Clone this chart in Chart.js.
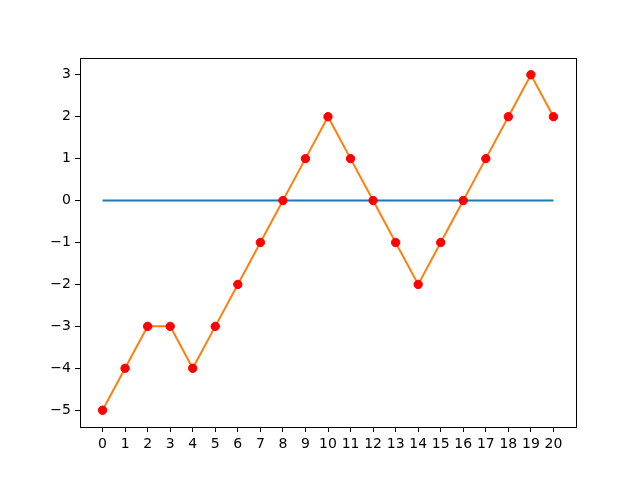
<!DOCTYPE html>
<html>
<head>
<meta charset="utf-8">
<script src="https://cdn.jsdelivr.net/npm/chart.js@4/dist/chart.umd.min.js"></script>
<style>
  html, body { margin: 0; padding: 0; background: #fff; }
  canvas { display: block; }
</style>
</head>
<body>
<canvas id="chart" width="640" height="480"></canvas>
<script>
// data
const xValues = [0, 1, 2, 3, 4, 5, 6, 7, 8, 9, 10, 11, 12, 13, 14, 15, 16, 17, 18, 19, 20];
const yValues = [-5, -4, -3, -3, -4, -3, -2, -1, 0, 1, 2, 1, 0, -1, -2, -1, 0, 1, 2, 3, 2];
const baseX = [0, 20];
const baseY = [0, 0];
const xTicks = [0, 1, 2, 3, 4, 5, 6, 7, 8, 9, 10, 11, 12, 13, 14, 15, 16, 17, 18, 19, 20];
const yTicks = [-5, -4, -3, -2, -1, 0, 1, 2, 3];

const fmt = v => (v < 0 ? '\u2212' + Math.abs(v) : String(v));

// top + right spines
const frame = {
    id: 'frame',
    afterDraw(chart) {
        const { ctx, chartArea: a } = chart;
        ctx.save();
        ctx.strokeStyle = '#000';
        ctx.lineWidth = 1;
        ctx.strokeRect(Math.round(a.left) + 0.5, Math.round(a.top) + 0.5,
            Math.round(a.right - a.left), Math.round(a.bottom - a.top));
        ctx.restore();
    }
};

const axisCommon = {
    type: 'linear',
    grid: { drawOnChartArea: false, drawTicks: true, tickLength: 5, color: '#000', lineWidth: 1 },
    border: { display: true, color: '#000', width: 1 },
    ticks: {
        color: '#000',
        font: { family: 'DejaVu Sans', size: 14 },
        padding: 4,
        callback: fmt,
        autoSkip: false,
        maxRotation: 0
    }
};

new Chart(document.getElementById('chart').getContext('2d'), {
    type: 'line',
    data: {
        datasets: [
            {
                data: xValues.map((x, i) => ({ x: x, y: yValues[i] })),
                borderColor: '#ff7f0e',
                borderWidth: 2,
                pointRadius: 4.2,
                pointBackgroundColor: '#ff0000',
                pointBorderColor: '#ff0000',
                pointBorderWidth: 1,
                tension: 0,
                order: 0
            },
            {
                data: baseX.map((x, i) => ({ x: x, y: baseY[i] })),
                borderColor: '#1f77b4',
                borderWidth: 2,
                pointRadius: 0,
                tension: 0,
                order: 1
            }
        ]
    },
    options: {
        responsive: false,
        animation: false,
        layout: { padding: { top: 58, right: 64, left: 0, bottom: 0 } },
        plugins: { legend: { display: false }, tooltip: { enabled: false } },
        scales: {
            x: {
                ...axisCommon,
                min: -1,
                max: 21,
                afterBuildTicks: s => { s.ticks = xTicks.map(v => ({ value: v })); },
                afterFit: s => { s.height = 53; }
            },
            y: {
                ...axisCommon,
                min: -5.4,
                max: 3.4,
                afterBuildTicks: s => { s.ticks = yTicks.map(v => ({ value: v })); },
                afterFit: s => { s.width = 80; }
            }
        }
    },
    plugins: [frame]
});
</script>
</body>
</html>
